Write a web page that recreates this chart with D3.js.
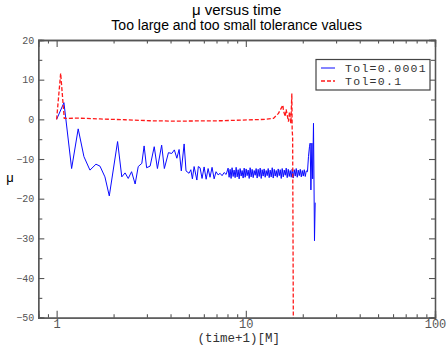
<!DOCTYPE html>
<html>
<head>
<meta charset="utf-8">
<script src="https://cdn.jsdelivr.net/npm/d3@7"></script>
<style>
  body { margin: 0; background: #fff; }
  svg { display: block; }
</style>
</head>
<body>
<div id="chart"></div>
<script>
// time+1 [M] and mu
const blueTime = [
  1.00, 1.093, 1.20, 1.30, 1.394, 1.50, 1.614, 1.695, 1.80, 1.898,
  2.10, 2.21, 2.30, 2.39, 2.49, 2.60, 2.70, 2.82, 2.90, 2.99,
  3.12, 3.28, 3.41, 3.59, 3.71, 3.90, 4.06, 4.19, 4.32, 4.44,
  4.56, 4.72, 4.83, 5.01, 5.12, 5.22, 5.33, 5.51, 5.61,
  5.73, 5.87, 6.02, 6.17, 6.32, 6.47, 6.63, 6.80, 6.96, 7.14,
  7.31, 7.49, 7.68, 7.87,
  8.06, 8.16, 8.26, 8.36, 8.46, 8.57, 8.67, 8.78, 8.89, 9.00,
  9.11, 9.22, 9.33, 9.45, 9.56, 9.68, 9.80, 9.92, 10.04, 10.16,
  10.29, 10.42, 10.54, 10.67, 10.80, 10.94, 11.07, 11.21, 11.34, 11.48,
  11.62, 11.77, 11.91, 12.06, 12.20, 12.35, 12.50, 12.66, 12.81, 12.97,
  13.13, 13.29, 13.45, 13.62, 13.79, 13.96, 14.13, 14.30, 14.48, 14.66,
  14.83, 15.02, 15.20, 15.39, 15.57, 15.77, 15.96, 16.16, 16.35, 16.55,
  16.76, 16.96, 17.17, 17.38, 17.59, 17.81, 18.03, 18.25, 18.47, 18.70,
  18.93, 19.16, 19.40, 19.64, 19.88, 20.12, 20.37, 20.62, 20.87,
  21.18, 21.44, 21.70, 21.89, 22.08, 22.35, 22.56, 22.79, 23.07, 23.26
];
const blueMu = [
  0, 4.2, -12.4, -2.4, -9.4, -12.8, -11.3, -11.8, -14.5, -19.3,
  -5.6, -14.5, -13.5, -14.9, -13.2, -16.3, -11.9, -11.1, -6.7, -12.2,
  -11.8, -6.9, -12.4, -6.5, -12.4, -8.4, -8.6, -7.7, -9.8, -7.6,
  -13.0, -6.2, -13.0, -13.6, -12.7, -15.0, -11.9, -15.3, -11.9,
  -12.2, -14.9, -12.0, -15.1, -12.4, -14.6, -12.1, -15.0, -13.2, -14.0,
  -13.6, -14.2, -13.4, -13.9,
  -12.3, -14.6, -12.6, -14.9, -12.2, -14.4, -12.8, -14.7, -12.1, -14.5,
  -12.7, -15.0, -12.4, -14.3, -12.9, -14.8, -12.3, -14.6, -12.5, -14.2,
  -12.8, -14.9, -12.2, -14.5, -12.6, -14.7, -12.9, -14.1, -12.4, -14.8,
  -12.6, -14.4, -12.3, -14.9, -12.7, -14.3, -12.5, -14.6, -12.9, -14.2,
  -12.4, -14.7, -12.8, -14.5, -12.2, -14.8, -12.6, -14.3, -12.9, -14.6,
  -12.5, -14.2, -12.7, -14.9, -12.4, -14.5, -12.8, -14.1, -12.3, -14.7,
  -12.6, -14.4, -12.9, -14.6, -12.5, -14.8, -12.7, -14.3, -12.4, -14.6,
  -12.8, -14.2, -12.6, -14.5, -12.9, -14.3, -12.7, -14.4, -13.0,
  -13.2, -9.4, -6.9, -6.0, -17.8, -6.0, -15.0, -1.0, -30.6, -21.0
];
const redTime = [
  1.00, 1.05, 1.097, 1.30, 1.695, 2.3, 3.12, 4.2, 5.73, 7.5,
  9.33, 11.0, 12.65, 14.0, 14.88, 15.70, 15.81, 16.15, 16.34, 16.80,
  17.01, 17.30, 17.51, 17.58, 17.68, 17.86
];
const redMu = [
  0, 11.6, 0.25, 0.3, 0.1, -0.1, -0.35, -0.45, -0.4, -0.35,
  -0.2, -0.1, 0.0, 0.25, 1.5, 3.6, 2.2, 0.7, 2.5, -0.6,
  1.9, -1.0, 6.5, -2.7, -4.4, -60
];
const seriesNames = ['Tol=0.0001', 'Tol=0.1'];
const xMajor = [1, 10, 100];
const xMinor = [0.9, 2, 3, 4, 5, 6, 7, 8, 9, 20, 30, 40, 50, 60, 70, 80, 90];
const yMajor = [-50, -40, -30, -20, -10, 0, 10, 20];
const yMinor = [-45, -35, -25, -15, -5, 5, 15];

const width = 448, height = 346;
const margin = { top: 40, right: 13, bottom: 28.3, left: 38.3 };
const axisColor = '#555';
const mono = '"Liberation Mono", "DejaVu Sans Mono", monospace';
const sans = '"Liberation Sans", Arial, sans-serif';

const svg = d3.select('#chart')
  .append('svg')
  .attr('width', width)
  .attr('height', height);

const x = d3.scaleLog()
  .domain([0.8, 100])
  .range([margin.left, width - margin.right]);

const y = d3.scaleLinear()
  .domain([-50, 20])
  .range([height - margin.bottom, margin.top]);

// clip the lines to the frame
svg.append('clipPath')
  .attr('id', 'plot-clip')
  .append('rect')
  .attr('x', margin.left)
  .attr('y', margin.top)
  .attr('width', x.range()[1] - margin.left)
  .attr('height', y.range()[0] - margin.top);

const line = d3.line()
  .x(d => x(d[0]))
  .y(d => y(d[1]));

const plot = svg.append('g').attr('clip-path', 'url(#plot-clip)');

plot.append('path')
  .datum(blueTime.map((t, i) => [t, blueMu[i]]))
  .attr('fill', 'none')
  .attr('stroke', '#0a0aff')
  .attr('stroke-width', 1)
  .attr('d', line);

plot.append('path')
  .datum(redTime.map((t, i) => [t, redMu[i]]))
  .attr('fill', 'none')
  .attr('stroke', '#ff1a1a')
  .attr('stroke-width', 1.3)
  .attr('stroke-dasharray', '4,2')
  .attr('d', line);

// 축: ticks point inwards on all four sides
function styleAxis(g) {
  g.select('.domain').attr('stroke', axisColor).attr('stroke-width', 1.3);
  g.selectAll('.tick line').attr('stroke', axisColor).attr('stroke-width', 1.1);
  g.selectAll('.tick text').attr('fill', '#555').attr('font-family', mono);
}

const yBottom = y.range()[0], yTop = margin.top;
const xLeft = margin.left, xRight = x.range()[1];

svg.append('g')
  .attr('transform', `translate(0,${yBottom})`)
  .call(d3.axisBottom(x).tickValues(xMajor).tickSize(-7).tickPadding(2)
    .tickFormat(d3.format('d')))
  .call(styleAxis)
  .call(g => g.selectAll('.tick text').attr('font-size', 12));

svg.append('g')
  .attr('transform', `translate(0,${yBottom})`)
  .call(d3.axisBottom(x).tickValues(xMinor).tickSize(-3.5).tickFormat(''))
  .call(styleAxis);

svg.append('g')
  .attr('transform', `translate(0,${yTop})`)
  .call(d3.axisTop(x).tickValues(xMajor).tickSize(-7).tickFormat(''))
  .call(styleAxis);

svg.append('g')
  .attr('transform', `translate(0,${yTop})`)
  .call(d3.axisTop(x).tickValues(xMinor).tickSize(-3.5).tickFormat(''))
  .call(styleAxis);

svg.append('g')
  .attr('transform', `translate(${xLeft},0)`)
  .call(d3.axisLeft(y).tickValues(yMajor).tickSize(-6).tickPadding(4))
  .call(styleAxis)
  .call(g => g.selectAll('.tick text').attr('font-size', 10));

svg.append('g')
  .attr('transform', `translate(${xLeft},0)`)
  .call(d3.axisLeft(y).tickValues(yMinor).tickSize(-4).tickFormat(''))
  .call(styleAxis);

svg.append('g')
  .attr('transform', `translate(${xRight},0)`)
  .call(d3.axisRight(y).tickValues(yMajor).tickSize(-6).tickFormat(''))
  .call(styleAxis);

svg.append('g')
  .attr('transform', `translate(${xRight},0)`)
  .call(d3.axisRight(y).tickValues(yMinor).tickSize(-4).tickFormat(''))
  .call(styleAxis);

// titles
const cx = (xLeft + xRight) / 2;
svg.append('text')
  .attr('x', cx).attr('y', 15)
  .attr('text-anchor', 'middle')
  .attr('font-family', sans)
  .attr('font-size', 15)
  .text('\u03bc  versus time');

svg.append('text')
  .attr('x', cx).attr('y', 30)
  .attr('text-anchor', 'middle')
  .attr('font-family', sans)
  .attr('font-size', 14)
  .text('Too large and too small tolerance values');

svg.append('text')
  .attr('x', cx + 2).attr('y', 341.5)
  .attr('text-anchor', 'middle')
  .attr('font-family', mono)
  .attr('font-size', 12.5)
  .attr('fill', '#333')
  .text('(time+1)[M]');

svg.append('text')
  .attr('x', 10).attr('y', 182)
  .attr('text-anchor', 'middle')
  .attr('font-family', sans)
  .attr('font-size', 13)
  .text('\u03bc');

// 범례
const legend = svg.append('g').attr('transform', 'translate(316,59.5)');
legend.append('rect')
  .attr('width', 114).attr('height', 30.5)
  .attr('fill', '#fff')
  .attr('stroke', '#444')
  .attr('stroke-width', 1.2);

const legendStyles = [
  { color: '#0a0aff', dash: null, w: 1 },
  { color: '#ff1a1a', dash: '4,2', w: 1.3 }
];

seriesNames.forEach((name, i) => {
  const yy = 8.5 + i * 13;
  legend.append('line')
    .attr('x1', 5).attr('x2', 19)
    .attr('y1', yy).attr('y2', yy)
    .attr('stroke', legendStyles[i].color)
    .attr('stroke-width', legendStyles[i].w)
    .attr('stroke-dasharray', legendStyles[i].dash);
  legend.append('text')
    .attr('x', 29).attr('y', yy + 4)
    .attr('font-family', mono)
    .attr('font-size', 11.5)
    .attr('letter-spacing', 1.3)
    .attr('fill', '#333')
    .text(name);
});
</script>
</body>
</html>
